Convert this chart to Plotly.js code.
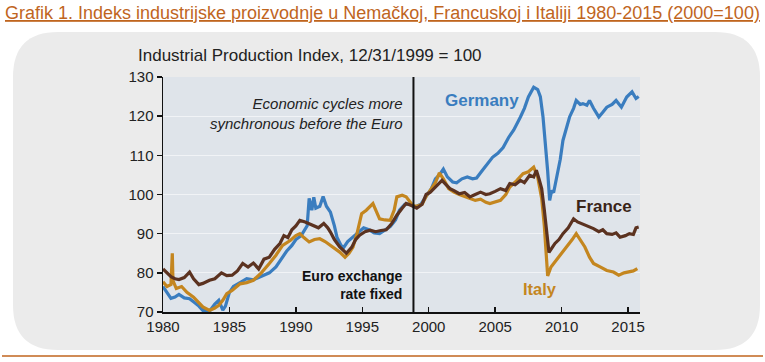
<!DOCTYPE html>
<html>
<head>
<meta charset="utf-8">
<script src="https://cdn.plot.ly/plotly-3.0.1.min.js"></script>
<style>
  html, body { margin: 0; padding: 0; background: #ffffff; }
  #chart { width: 765px; height: 362px; }
</style>
</head>
<body>
<div id="chart"></div>
<script>
// ---------- data ----------
const germanyYears = [1980.0,1980.3,1980.6,1980.9,1981.2,1981.6,1982.0,1982.3,1982.7,1983.0,1983.5,1983.9,1984.2,1984.5,1984.7,1985.0,1985.3,1985.8,1986.3,1986.8,1987.2,1987.6,1988.0,1988.5,1988.9,1989.3,1989.7,1990.0,1990.4,1990.7,1990.85,1991.0,1991.2,1991.35,1991.5,1991.8,1992.05,1992.3,1992.6,1992.9,1993.1,1993.4,1993.6,1993.9,1994.3,1994.7,1995.1,1995.5,1995.9,1996.3,1996.7,1997.1,1997.5,1997.8,1998.2,1998.6,1999.0,1999.4,1999.8,2000.2,2000.5,2000.8,2001.1,2001.4,2001.8,2002.1,2002.5,2002.9,2003.3,2003.6,2004.0,2004.4,2004.8,2005.2,2005.6,2006.0,2006.4,2006.9,2007.2,2007.5,2007.9,2008.2,2008.4,2008.6,2008.8,2008.95,2009.1,2009.25,2009.4,2009.6,2009.9,2010.1,2010.4,2010.6,2010.9,2011.1,2011.4,2011.6,2011.9,2012.1,2012.4,2012.8,2013.1,2013.4,2013.8,2014.1,2014.5,2014.9,2015.3,2015.6,2015.8];
const germanyValues = [76.5,75,73.5,73.8,74.5,73.6,73.4,72.6,71.5,70.4,70.2,72,73,70.5,71.5,75,76.5,77.5,78.5,78.2,78.8,79.5,80,81.5,83.5,85.5,87,88.5,89.5,91,92,99,96,99.3,96.5,97,99.5,97,95.5,92,89,87,86.5,88,89.2,90.5,91.5,91,90.2,90,91,91.8,93.5,96,97.5,97.5,96.8,97.5,99.5,101.5,104,105,106.5,104.5,103.2,103,104,104.5,104,104.2,106,107.9,109.5,110.5,112,114.5,116.5,119.8,122,124.9,127.4,126.8,125,119.8,113,106,98.5,101,100.5,103.6,109,113.8,117,119.8,122,124,123,123.2,122.8,124,122,119.8,121,122.3,123,124,122.3,124.9,126.2,124.5,125];

const franceYears = [1980.0,1980.3,1980.6,1980.9,1981.2,1981.6,1982.0,1982.3,1982.7,1983.0,1983.5,1983.9,1984.4,1984.8,1985.2,1985.6,1986.0,1986.4,1986.8,1987.2,1987.6,1988.0,1988.4,1988.8,1989.1,1989.4,1989.7,1990.0,1990.3,1990.7,1991.0,1991.3,1991.7,1992.1,1992.4,1992.6,1992.9,1993.3,1993.8,1994.2,1994.5,1994.8,1995.2,1995.6,1996.0,1996.4,1996.8,1997.2,1997.6,1998.0,1998.3,1998.7,1999.1,1999.5,1999.8,2000.1,2000.5,2001.0,2001.3,2001.6,2001.9,2002.3,2002.7,2003.1,2003.5,2003.9,2004.3,2004.6,2005.0,2005.4,2005.8,2006.1,2006.5,2006.9,2007.2,2007.6,2007.9,2008.1,2008.3,2008.5,2008.7,2008.9,2009.05,2009.3,2009.5,2009.8,2010.1,2010.5,2010.9,2011.2,2011.5,2011.9,2012.4,2012.8,2013.1,2013.4,2013.8,2014.1,2014.4,2014.8,2015.1,2015.4,2015.6,2015.8];
const franceValues = [81,80,79,78.5,78.3,78.8,80.2,78.5,77,77.3,78.1,78.5,80,79.3,79.4,80.5,82.4,81.5,82.5,81,83.5,84,86,87.5,89.5,89,91,92,93.4,93,92.5,92.1,91.5,92.6,91.5,90.4,88.5,86.6,85,86.5,88.5,89.6,90.5,90.9,90.5,90.8,91,92.5,94.7,96.5,97.7,97.2,96.5,97.5,100,100.5,102,103.6,102.5,101.5,101,100.2,100.5,99.4,100,100.6,100,100.2,100.8,101.5,101,102.8,102.5,103.6,103,104.9,104.5,106.2,104,101.5,96,90,85.2,86.5,87.5,88.5,90,91.5,93.8,93,92.6,92,91.3,90.5,91,90,89.8,90.2,89.1,89.5,90,89.8,91.5,91.7];

const italyYears = [1980.0,1980.3,1980.6,1980.7,1980.75,1981.0,1981.4,1981.8,1982.3,1982.7,1983.0,1983.5,1983.9,1984.2,1984.5,1984.8,1985.2,1985.8,1986.3,1986.8,1987.4,1988.0,1988.5,1989.0,1989.6,1990.0,1990.3,1990.6,1991.0,1991.4,1991.8,1992.2,1992.6,1993.0,1993.3,1993.7,1994.0,1994.3,1994.6,1994.95,1995.3,1995.8,1996.1,1996.3,1996.7,1997.1,1997.4,1997.6,1998.0,1998.3,1998.8,1999.1,1999.5,1999.8,2000.2,2000.5,2000.8,2001.1,2001.5,2001.9,2002.3,2002.7,2003.1,2003.5,2003.9,2004.3,2004.6,2005.0,2005.4,2005.8,2006.1,2006.6,2007.1,2007.5,2007.9,2008.2,2008.5,2008.7,2008.85,2008.95,2009.2,2009.6,2010.0,2010.4,2010.8,2011.1,2011.4,2011.75,2012.1,2012.4,2012.9,2013.4,2013.9,2014.3,2014.7,2015.1,2015.4,2015.7];
const italyValues = [77.7,76.5,77,85,78,76,76.5,75,73.8,72.5,71.3,70.4,71,71.7,73,74.7,75.5,77.2,77.5,78.1,80,82.4,84.5,87,88.3,89.5,90,89,87.9,88.5,88.7,88,87,86,85.3,84,85,86.6,90,95.1,96,97.7,95.5,93.8,93.5,93.4,96,99.4,99.8,99.4,97.2,97,97.5,99.5,101.5,103,105.5,104,101.5,100.6,100,99.5,99,98.5,98.8,98,97.7,98,98.5,100,101.9,103.5,105.3,105.8,107,104.5,99,92,84,79.2,81.5,83.2,85,86.6,88.5,90,88.5,86.6,84,82.4,81.5,80.6,80.2,79.4,80,80.2,80.5,81.1];

const yTicks = [70, 80, 90, 100, 110, 120, 130];
const xTicks = [1980, 1985, 1990, 1995, 2000, 2005, 2010, 2015];
const euroFixedYear = 1998.85;

const chartTitle = 'Grafik 1. Indeks industrijske proizvodnje u Nemačkoj, Francuskoj i Italiji 1980-2015 (2000=100)';
const subTitle = 'Industrial Production Index, 12/31/1999 = 100';

// ---------- layout geometry ----------
const W = 765, H = 362;
const M = {l: 163, r: 125, t: 77, b: 50};
const PW = W - M.l - M.r, PH = H - M.t - M.b;
const px = x => (x - M.l) / PW;          // pixel -> paper x
const py = y => (H - M.b - y) / PH;      // pixel -> paper y

function roundRect(x0, y0, x1, y1, r) {
  const rx = r / PW, ry = r / PH;
  const L = px(x0), R = px(x1), T = py(y0), B = py(y1);
  return `M ${L + rx} ${T} L ${R - rx} ${T} Q ${R} ${T} ${R} ${T - ry} ` +
         `L ${R} ${B + ry} Q ${R} ${B} ${R - rx} ${B} ` +
         `L ${L + rx} ${B} Q ${L} ${B} ${L} ${B + ry} ` +
         `L ${L} ${T - ry} Q ${L} ${T} ${L + rx} ${T} Z`;
}

const FONT = 'Liberation Sans, Arial, Helvetica, sans-serif';
const cGermany = '#3a7dbf', cFrance = '#5b3220', cItaly = '#c4861f';

const traces = [
  {x: germanyYears, y: germanyValues, name: 'Germany', type: 'scatter', mode: 'lines',
   line: {color: cGermany, width: 3.2}},
  {x: italyYears, y: italyValues, name: 'Italy', type: 'scatter', mode: 'lines',
   line: {color: cItaly, width: 3.2}},
  {x: franceYears, y: franceValues, name: 'France', type: 'scatter', mode: 'lines',
   line: {color: cFrance, width: 3.2}}
];

const layout = {
  width: W, height: H,
  margin: M,
  paper_bgcolor: '#ffffff',
  plot_bgcolor: 'rgba(0,0,0,0)',
  showlegend: false,
  font: {family: FONT, color: '#222222', size: 15},
  xaxis: {
    range: [1980, 2015.9], tickvals: xTicks, ticktext: xTicks.map(String),
    ticks: 'inside', ticklen: 5, tickwidth: 1.5, tickcolor: '#111',
    showline: true, linecolor: '#111', linewidth: 1.5,
    showgrid: false, zeroline: false,
    tickfont: {size: 15, color: '#222'}
  },
  yaxis: {
    range: [70, 130], tickvals: yTicks, ticktext: yTicks.map(String),
    ticks: 'outside', ticklen: 5, tickwidth: 1.5, tickcolor: '#111',
    showline: true, linecolor: '#111', linewidth: 1.5,
    showgrid: true, gridcolor: 'rgba(255,255,255,0.55)', gridwidth: 1,
    zeroline: false,
    tickfont: {size: 15, color: '#222'}
  },
  shapes: [
    {type: 'path', xref: 'paper', yref: 'paper', layer: 'below',
     path: roundRect(13, 32, 760, 350, 45), fillcolor: '#ebebeb', line: {width: 0}},
    {type: 'rect', xref: 'paper', yref: 'paper', layer: 'below',
     x0: 0, x1: 1, y0: 0, y1: 1, fillcolor: '#dfe4ea', line: {width: 0}},
    {type: 'line', xref: 'x', yref: 'paper', layer: 'above',
     x0: euroFixedYear, x1: euroFixedYear, y0: 0, y1: 1,
     line: {color: '#111', width: 2}},
    {type: 'line', xref: 'paper', yref: 'paper', layer: 'above',
     x0: px(2), x1: px(763), y0: py(356), y1: py(356),
     line: {color: '#c0651e', width: 1.5}}
  ],
  annotations: [
    {xref: 'paper', yref: 'paper', x: px(382.5), y: py(13), xanchor: 'center', yanchor: 'middle',
     text: chartTitle, showarrow: false,
     font: {family: FONT, size: 18, color: '#c0651e', lineposition: 'under'}},
    {xref: 'paper', yref: 'paper', x: px(136), y: py(55), xanchor: 'left', yanchor: 'middle',
     text: subTitle, showarrow: false,
     font: {family: FONT, size: 17, color: '#222'}},
    {xref: 'x', yref: 'y', x: 1998.2, y: 120.6, xanchor: 'right', yanchor: 'middle', align: 'right',
     text: '<i>Economic cycles more<br>synchronous before the Euro</i>', showarrow: false,
     font: {family: FONT, size: 15, color: '#222'}},
    {xref: 'x', yref: 'y', x: 1998.2, y: 76.8, xanchor: 'right', yanchor: 'middle', align: 'right',
     text: '<b>Euro exchange<br>rate fixed</b>', showarrow: false,
     font: {family: FONT, size: 14, color: '#111'}},
    {xref: 'x', yref: 'y', x: 2004.0, y: 124.0, xanchor: 'center', yanchor: 'middle',
     text: '<b>Germany</b>', showarrow: false,
     font: {family: FONT, size: 17, color: cGermany}},
    {xref: 'x', yref: 'y', x: 2013.2, y: 97.0, xanchor: 'center', yanchor: 'middle',
     text: '<b>France</b>', showarrow: false,
     font: {family: FONT, size: 17, color: '#3a2418'}},
    {xref: 'x', yref: 'y', x: 2008.35, y: 75.8, xanchor: 'center', yanchor: 'middle',
     text: '<b>Italy</b>', showarrow: false,
     font: {family: FONT, size: 16.5, color: cItaly}}
  ]
};

Plotly.newPlot('chart', traces, layout, {displayModeBar: false, staticPlot: true});
</script>
</body>
</html>
